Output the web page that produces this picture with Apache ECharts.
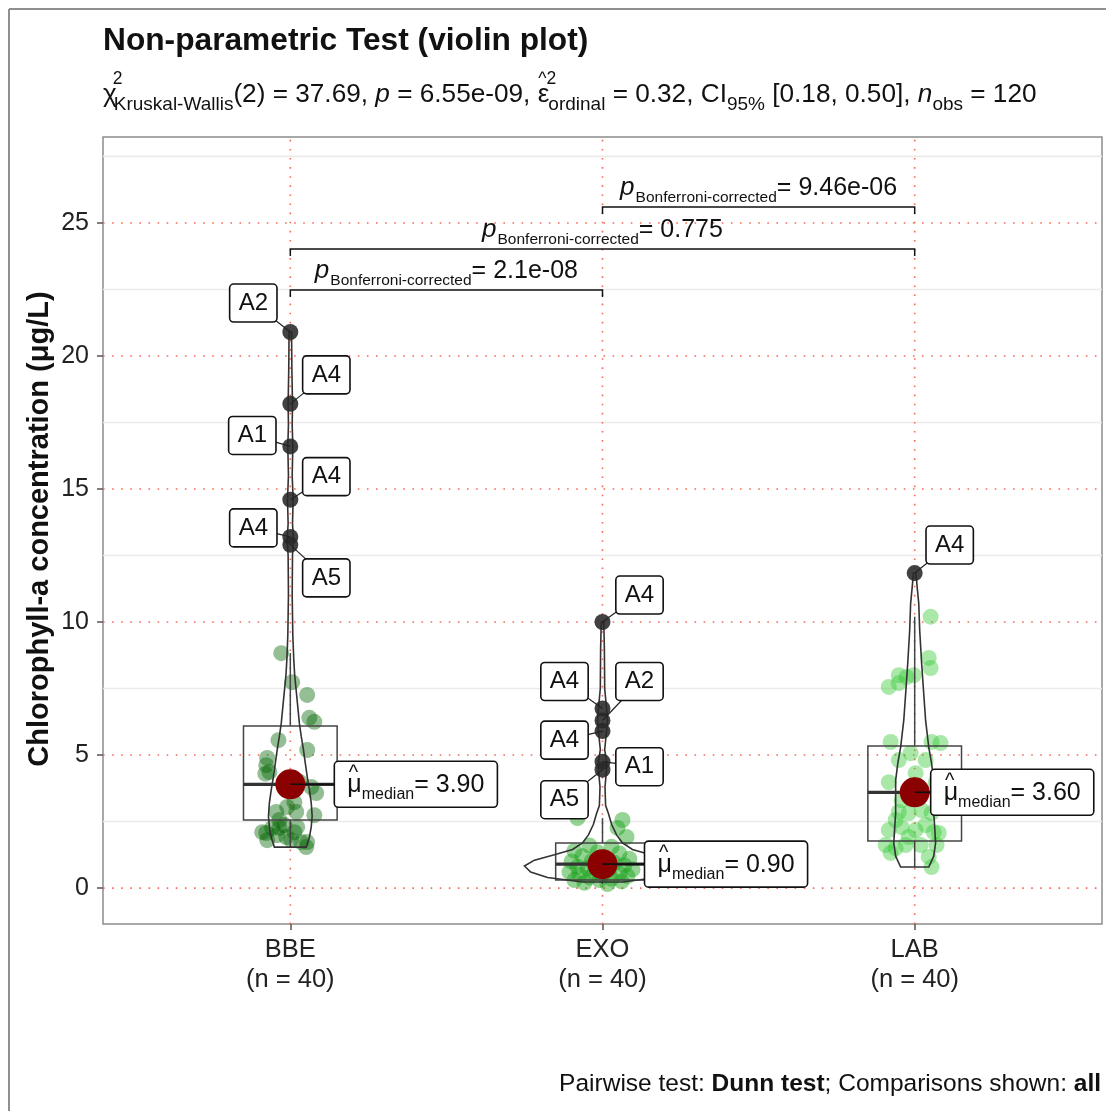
<!DOCTYPE html>
<html>
<head>
<meta charset="utf-8">
<script src="https://cdn.jsdelivr.net/npm/echarts@6/dist/echarts.min.js"></script>
<style>
html,body{margin:0;padding:0;background:#fff;}
#main{width:1106px;height:1111px;}
</style>
</head>
<body>
<div id="main"></div>
<script>
var FONT = "'Liberation Sans', Arial, Helvetica, sans-serif";

// ---- data ----
var categories = ['BBE', 'EXO', 'LAB'];
var groupN = [40, 40, 40];
var medianVals = [3.90, 0.90, 3.60];
// [lower whisker, Q1, median, Q3, upper whisker]
var boxStats = [
    [1.54, 2.56, 3.90, 6.09, 8.83],
    [0.15, 0.30, 0.90, 1.69, 2.63],
    [0.79, 1.77, 3.60, 5.34, 10.20]
];

var bbeVals = [8.83,7.74,7.26,6.40,6.25,5.56,5.19,4.89,4.62,4.36,4.30,3.80,3.57,3.23,3.05,2.86,2.86,2.74,2.56,2.37,2.26,2.29,2.07,1.99,1.92,2.10,2.10,1.80,1.73,1.73,1.80,2.26,1.54,4.00];
var bbeJitter = [-0.029,0.006,0.054,0.061,0.077,-0.038,0.054,-0.074,-0.077,-0.067,-0.080,0.067,0.083,0.013,-0.010,-0.045,0.019,0.077,-0.035,-0.019,-0.058,0.022,-0.077,-0.042,-0.013,0.013,-0.090,0.003,0.035,0.054,-0.074,-0.035,0.051,0.029];
var exoVals = [2.63,2.56,2.26,1.92,1.60,1.55,1.40,1.35,1.30,1.20,1.15,1.10,1.00,1.00,0.95,0.85,0.85,0.80,0.75,0.70,0.70,0.60,0.60,0.55,0.50,0.50,0.45,0.40,0.35,0.30,0.30,0.25,0.20,0.15];
var exoJitter = [-0.080,0.064,0.048,0.077,-0.042,0.029,-0.090,-0.016,0.054,-0.064,0.006,0.086,-0.099,-0.035,0.038,-0.010,0.070,-0.080,-0.048,0.022,0.096,-0.106,-0.026,0.054,-0.074,0.000,0.080,-0.042,0.029,-0.090,-0.010,0.061,-0.058,0.016];
var labVals = [10.20,8.65,8.27,8.00,7.93,7.56,7.70,8.00,5.49,5.49,5.45,5.07,4.81,4.81,4.32,3.98,3.95,3.30,3.42,2.86,2.82,2.93,2.82,2.18,2.29,2.18,2.37,2.10,1.62,1.50,1.62,1.62,1.62,1.32,1.17,0.79,1.92,2.07,2.56];
var labJitter = [0.051,0.045,0.051,-0.051,-0.026,-0.083,-0.051,-0.003,-0.077,0.054,0.083,-0.013,-0.051,0.035,0.003,-0.083,0.067,-0.042,0.013,-0.051,-0.019,0.022,0.054,-0.083,-0.042,0.003,0.035,0.061,-0.093,-0.061,-0.029,0.019,0.070,-0.077,0.045,0.054,-0.019,0.077,-0.061];

var outlierVals = [[20.9,18.2,16.6,14.6,13.2,12.9],[10.0,6.75,6.3,5.9,4.75,4.45],[11.84]];
var outlierTags = [['A2','A4','A1','A4','A4','A5'],['A4','A4','A2','A4','A1','A5'],['A4']];

// violin outline: [value, half width in category units]
var violinBBE = [[1.54,0.051],[1.9,0.061],[2.3,0.067],[2.7,0.070],[3.2,0.067],[3.7,0.061],[4.2,0.054],[4.7,0.048],[5.2,0.042],[5.7,0.035],[6.2,0.029],[6.8,0.024],[7.4,0.019],[8.0,0.014],[8.6,0.011],[9.5,0.008],[11.0,0.006],[12.5,0.007],[13.1,0.010],[13.7,0.007],[14.6,0.009],[15.5,0.006],[16.6,0.008],[17.4,0.006],[18.2,0.007],[19.5,0.005],[20.9,0.004]];
var violinEXO = [[0.23,0.064],[0.4,0.176],[0.6,0.230],[0.83,0.250],[1.05,0.218],[1.25,0.154],[1.45,0.096],[1.7,0.064],[2.0,0.045],[2.4,0.029],[2.8,0.019],[3.1,0.010],[3.8,0.008],[4.45,0.013],[4.75,0.013],[5.2,0.007],[5.9,0.013],[6.3,0.016],[6.75,0.013],[7.5,0.007],[9.0,0.006],[10.0,0.004]];
var violinLAB = [[0.79,0.045],[1.2,0.061],[1.7,0.067],[2.3,0.064],[2.8,0.061],[3.5,0.061],[4.05,0.061],[4.7,0.054],[5.3,0.045],[6.3,0.035],[7.3,0.029],[8.5,0.022],[9.7,0.016],[10.7,0.013],[11.3,0.008],[11.84,0.004]];

var pairs = [[1,2],[1,3],[2,3]];
var pairHeights = [22.48, 24.02, 25.6];
var pairP = ['2.1e-08', '0.775', '9.46e-06'];

var yTicks = [0, 5, 10, 15, 20, 25];
var yMinor = [2.5, 7.5, 12.5, 17.5, 22.5, 27.5];
var xTicks = [1, 2, 3];

// ---- layout (pixels) ----
var tagOffsets = [
    [[-37,-29],[36,-29],[-38,-11],[36,-23],[-37,-9],[36,33]],
    [[37,-27],[-38,-27],[37,-39],[-38,9],[37,5],[-38,30]],
    [[35,-28]]
];
var medianLabelDx = [44, 42, 16];

var groupVals = [bbeVals, exoVals, labVals];
var groupJitter = [bbeJitter, exoJitter, labJitter];
var violins = [violinBBE, violinEXO, violinLAB];
var pointColors = ['rgba(0,100,0,0.42)', 'rgba(20,160,20,0.45)', 'rgba(50,200,50,0.42)'];

var ctx2d = document.createElement('canvas').getContext('2d');
function fontStr(p) {
    return (p.it ? 'italic ' : '') + (p.b ? 'bold ' : '') + p.s + 'px ' + FONT;
}
function textW(p) {
    ctx2d.font = fontStr(p);
    return ctx2d.measureText(p.t).width;
}
function runsWidth(parts) {
    var w = 0;
    parts.forEach(function (p) {
        if (p.adv !== false) w += textW(p) + (p.dx || 0);
    });
    return w;
}
// lay text runs on a baseline (sub/superscripts via dy)
function runText(x0, baseY, parts, align, color, z) {
    var total = runsWidth(parts);
    var x = align === 'center' ? x0 - total / 2 : (align === 'right' ? x0 - total : x0);
    var out = [];
    parts.forEach(function (p) {
        var px = x + (p.dx || 0);
        out.push({
            type: 'text', x: px, y: baseY + (p.dy || 0) - 0.35 * p.s, z: z || 10, silent: true,
            style: {text: p.t, font: fontStr(p), fill: color || '#111', textFill: color || '#111',
                align: 'left', textAlign: 'left', verticalAlign: 'middle', textVerticalAlign: 'middle'}
        });
        if (p.adv !== false) x = px + textW(p);
    });
    return out;
}

function scatterData(i) {
    return groupVals[i].map(function (v, k) { return [i + 1 + groupJitter[i][k], v]; });
}

var outlierData = [], outlierIdx = [];
outlierVals.forEach(function (arr, g) {
    arr.forEach(function (v, k) { outlierData.push([g + 1, v]); outlierIdx.push([g, k]); });
});

function renderGrid(params, api) {
    var lines = [];
    yMinor.forEach(function (v) {
        var a = api.coord([0.4, v]), b = api.coord([3.6, v]);
        lines.push({type: 'line', shape: {x1: a[0], y1: a[1], x2: b[0], y2: b[1]}, style: {stroke: '#ebebeb', lineWidth: 1.6}});
    });
    yTicks.forEach(function (v) {
        var a = api.coord([0.4, v]), b = api.coord([3.6, v]);
        lines.push({type: 'line', shape: {x1: a[0], y1: a[1], x2: b[0], y2: b[1]}, style: {stroke: 'rgb(245,105,85)', lineWidth: 1.6, lineDash: [1.6, 7.5]}});
    });
    xTicks.forEach(function (v) {
        var a = api.coord([v, -1.35]), b = api.coord([v, 28.23]);
        lines.push({type: 'line', shape: {x1: a[0], y1: a[1], x2: b[0], y2: b[1]}, style: {stroke: 'rgb(245,105,85)', lineWidth: 1.6, lineDash: [1.6, 7.5]}});
    });
    return params.dataIndex === 0 ? {type: 'group', children: lines} : null;
}

function renderBox(params, api) {
    var i = params.dataIndex, s = boxStats[i], cx = i + 1, hw = 0.15;
    var tl = api.coord([cx - hw, s[3]]), br = api.coord([cx + hw, s[1]]);
    var med = api.coord([cx, s[2]]), lo = api.coord([cx, s[0]]), q1 = api.coord([cx, s[1]]);
    var q3 = api.coord([cx, s[3]]), hi = api.coord([cx, s[4]]);
    var st = {stroke: '#444', lineWidth: 1.5, fill: null};
    return {type: 'group', children: [
        {type: 'line', shape: {x1: hi[0], y1: hi[1], x2: q3[0], y2: q3[1]}, style: st},
        {type: 'line', shape: {x1: q1[0], y1: q1[1], x2: lo[0], y2: lo[1]}, style: st},
        {type: 'rect', shape: {x: tl[0], y: tl[1], width: br[0] - tl[0], height: br[1] - tl[1]}, style: st},
        {type: 'line', shape: {x1: tl[0], y1: med[1], x2: br[0], y2: med[1]}, style: {stroke: '#333', lineWidth: 3.2}}
    ]};
}

function renderViolin(params, api) {
    var i = params.dataIndex, prof = violins[i], cx = i + 1, pts = [];
    prof.forEach(function (d) { pts.push(api.coord([cx + d[1], d[0]])); });
    for (var k = prof.length - 1; k >= 0; k--) pts.push(api.coord([cx - prof[k][1], prof[k][0]]));
    return {type: 'polygon', shape: {points: pts}, style: {fill: null, stroke: '#333', lineWidth: 1.6}};
}

function renderTags(params, api) {
    var gk = outlierIdx[params.dataIndex], g = gk[0], k = gk[1];
    var p = api.coord([g + 1, outlierVals[g][k]]);
    var off = tagOffsets[g][k];
    var cx = p[0] + off[0], cy = p[1] + off[1];
    var part = {t: outlierTags[g][k], s: 24};
    var w = textW(part) + 18, h = 38;
    var kids = [
        {type: 'line', shape: {x1: p[0], y1: p[1], x2: cx, y2: cy}, style: {stroke: '#222', lineWidth: 1.2}},
        {type: 'rect', shape: {x: cx - w / 2, y: cy - h / 2, width: w, height: h, r: 4}, style: {fill: '#fff', stroke: '#111', lineWidth: 1.6}}
    ];
    return {type: 'group', children: kids.concat(runText(cx, cy + 8.5, [part], 'center', '#111'))};
}

function renderMedianLabel(params, api) {
    var i = params.dataIndex;
    var p = api.coord([i + 1, medianVals[i]]);
    var parts = [
        {t: 'μ', s: 25},
        {t: '^', s: 20, dy: -14, dx: -13, adv: false},
        {t: 'median', s: 16, dy: 6},
        {t: '= ' + medianVals[i].toFixed(2), s: 25}
    ];
    var w = runsWidth(parts) + 26, h = 46;
    var left = p[0] + medianLabelDx[i];
    var kids = [
        {type: 'line', shape: {x1: p[0], y1: p[1], x2: left, y2: p[1]}, style: {stroke: '#111', lineWidth: 1.6}},
        {type: 'rect', shape: {x: left, y: p[1] - h / 2, width: w, height: h, r: 4}, style: {fill: '#fff', stroke: '#111', lineWidth: 1.6}}
    ];
    return {type: 'group', children: kids.concat(runText(left + 13, p[1] + 10, parts, 'left', '#111'))};
}

function renderBrackets(params, api) {
    var i = params.dataIndex, pr = pairs[i], h = pairHeights[i];
    var a = api.coord([pr[0], h]), b = api.coord([pr[1], h]);
    var parts = [
        {t: 'p', s: 26, it: true},
        {t: 'Bonferroni-corrected', s: 15.5, dy: 6, dx: 1},
        {t: '= ' + pairP[i], s: 25}
    ];
    var kids = [{type: 'polyline', shape: {points: [[a[0], a[1] + 7], a, b, [b[0], b[1] + 7]]}, style: {stroke: '#111', lineWidth: 1.5, fill: null}}];
    return {type: 'group', children: kids.concat(runText((a[0] + b[0]) / 2, a[1] - 10, parts, 'center', '#111'))};
}

var chart = echarts.init(document.getElementById('main'));

var subParts = [
    {t: 'χ', s: 26.2},
    {t: '2', s: 17.5, dy: -19, dx: -4, adv: false},
    {t: 'Kruskal-Wallis', s: 19, dy: 7, dx: -3},
    {t: '(2) = 37.69, ', s: 26.2},
    {t: 'p', s: 26.2, it: true},
    {t: ' = 6.55e-09, ', s: 26.2},
    {t: 'ε', s: 26.2},
    {t: '^2', s: 17.5, dy: -19, dx: -11, adv: false},
    {t: 'ordinal', s: 19, dy: 7, dx: -1},
    {t: ' = 0.32, CI', s: 26.2},
    {t: '95%', s: 19, dy: 7},
    {t: ' [0.18, 0.50], ', s: 26.2},
    {t: 'n', s: 26.2, it: true},
    {t: 'obs', s: 19, dy: 7},
    {t: ' = 120', s: 26.2}
];
var captionParts = [
    {t: 'Pairwise test: ', s: 24.5},
    {t: 'Dunn test', s: 24.5, b: true},
    {t: '; Comparisons shown: ', s: 24.5},
    {t: 'all', s: 24.5, b: true}
];

var graphics = [
    {type: 'line', shape: {x1: 9, y1: 9, x2: 1106, y2: 9}, style: {stroke: '#8f8f8f', lineWidth: 2}, silent: true},
    {type: 'line', shape: {x1: 9, y1: 9, x2: 9, y2: 1111}, style: {stroke: '#8f8f8f', lineWidth: 2}, silent: true},
    {type: 'text', x: 40, y: 529, rotation: Math.PI / 2, silent: true,
        style: {text: 'Chlorophyll-a concentration (μg/L)', font: 'bold 29px ' + FONT, fill: '#111', textFill: '#111',
            align: 'center', textAlign: 'center', verticalAlign: 'middle', textVerticalAlign: 'middle'}}
]
    .concat(runText(103, 52, [{t: 'Non-parametric Test (violin plot)', s: 31.7, b: true}], 'left', '#111'))
    .concat(runText(103, 104, subParts, 'left', '#111'))
    .concat(runText(1101, 1093, captionParts, 'right', '#111'));

var option = {
    animation: false,
    backgroundColor: '#fff',
    textStyle: {fontFamily: FONT},
    grid: {left: 103, right: 4, top: 137, bottom: 187, show: true, borderColor: '#8c8c8c', borderWidth: 1.5, backgroundColor: '#fff'},
    xAxis: {
        type: 'value', min: 0.4, max: 3.6,
        axisLine: {show: false, onZero: false}, splitLine: {show: false},
        axisTick: {show: true, customValues: xTicks, length: 6, lineStyle: {color: '#555', width: 1.5}},
        axisLabel: {
            customValues: xTicks, fontSize: 25.5, color: '#222', lineHeight: 30, margin: 11, fontFamily: FONT,
            formatter: function (v) {
                var i = Math.round(v) - 1;
                return categories[i] + '\n(n = ' + groupN[i] + ')';
            }
        }
    },
    yAxis: {
        type: 'value', min: -1.35, max: 28.23,
        axisLine: {show: false, onZero: false}, splitLine: {show: false},
        axisTick: {show: true, customValues: yTicks, length: 6, lineStyle: {color: '#555', width: 1.5}},
        axisLabel: {customValues: yTicks, fontSize: 25, color: '#222', margin: 14, fontFamily: FONT}
    },
    graphic: graphics,
    series: [
        {type: 'custom', name: 'grid', z: 1, renderItem: renderGrid, data: [[1, 0]], silent: true},
        {type: 'scatter', name: 'BBE', z: 2, symbolSize: 16, itemStyle: {color: pointColors[0], opacity: 1}, data: scatterData(0), silent: true},
        {type: 'scatter', name: 'EXO', z: 2, symbolSize: 16, itemStyle: {color: pointColors[1], opacity: 1}, data: scatterData(1), silent: true},
        {type: 'scatter', name: 'LAB', z: 2, symbolSize: 16, itemStyle: {color: pointColors[2], opacity: 1}, data: scatterData(2), silent: true},
        {type: 'custom', name: 'box', z: 3, renderItem: renderBox, data: medianVals.map(function (m, i) { return [i + 1, m]; }), silent: true},
        {type: 'custom', name: 'violin', z: 4, renderItem: renderViolin, data: medianVals.map(function (m, i) { return [i + 1, m]; }), silent: true},
        {type: 'scatter', name: 'outliers', z: 5, symbolSize: 16, itemStyle: {color: 'rgba(40,40,40,0.88)', opacity: 1}, data: outlierData, silent: true},
        {type: 'scatter', name: 'median', z: 6, symbolSize: 30, itemStyle: {color: '#8b0000', opacity: 1}, data: medianVals.map(function (m, i) { return [i + 1, m]; }), silent: true},
        {type: 'custom', name: 'tags', z: 7, renderItem: renderTags, data: outlierData, silent: true},
        {type: 'custom', name: 'medianLabel', z: 8, renderItem: renderMedianLabel, data: medianVals.map(function (m, i) { return [i + 1, m]; }), silent: true},
        {type: 'custom', name: 'pairs', z: 8, renderItem: renderBrackets, data: pairs.map(function (p, i) { return [(p[0] + p[1]) / 2, pairHeights[i]]; }), silent: true}
    ]
};
chart.setOption(option);
</script>
</body>
</html>
